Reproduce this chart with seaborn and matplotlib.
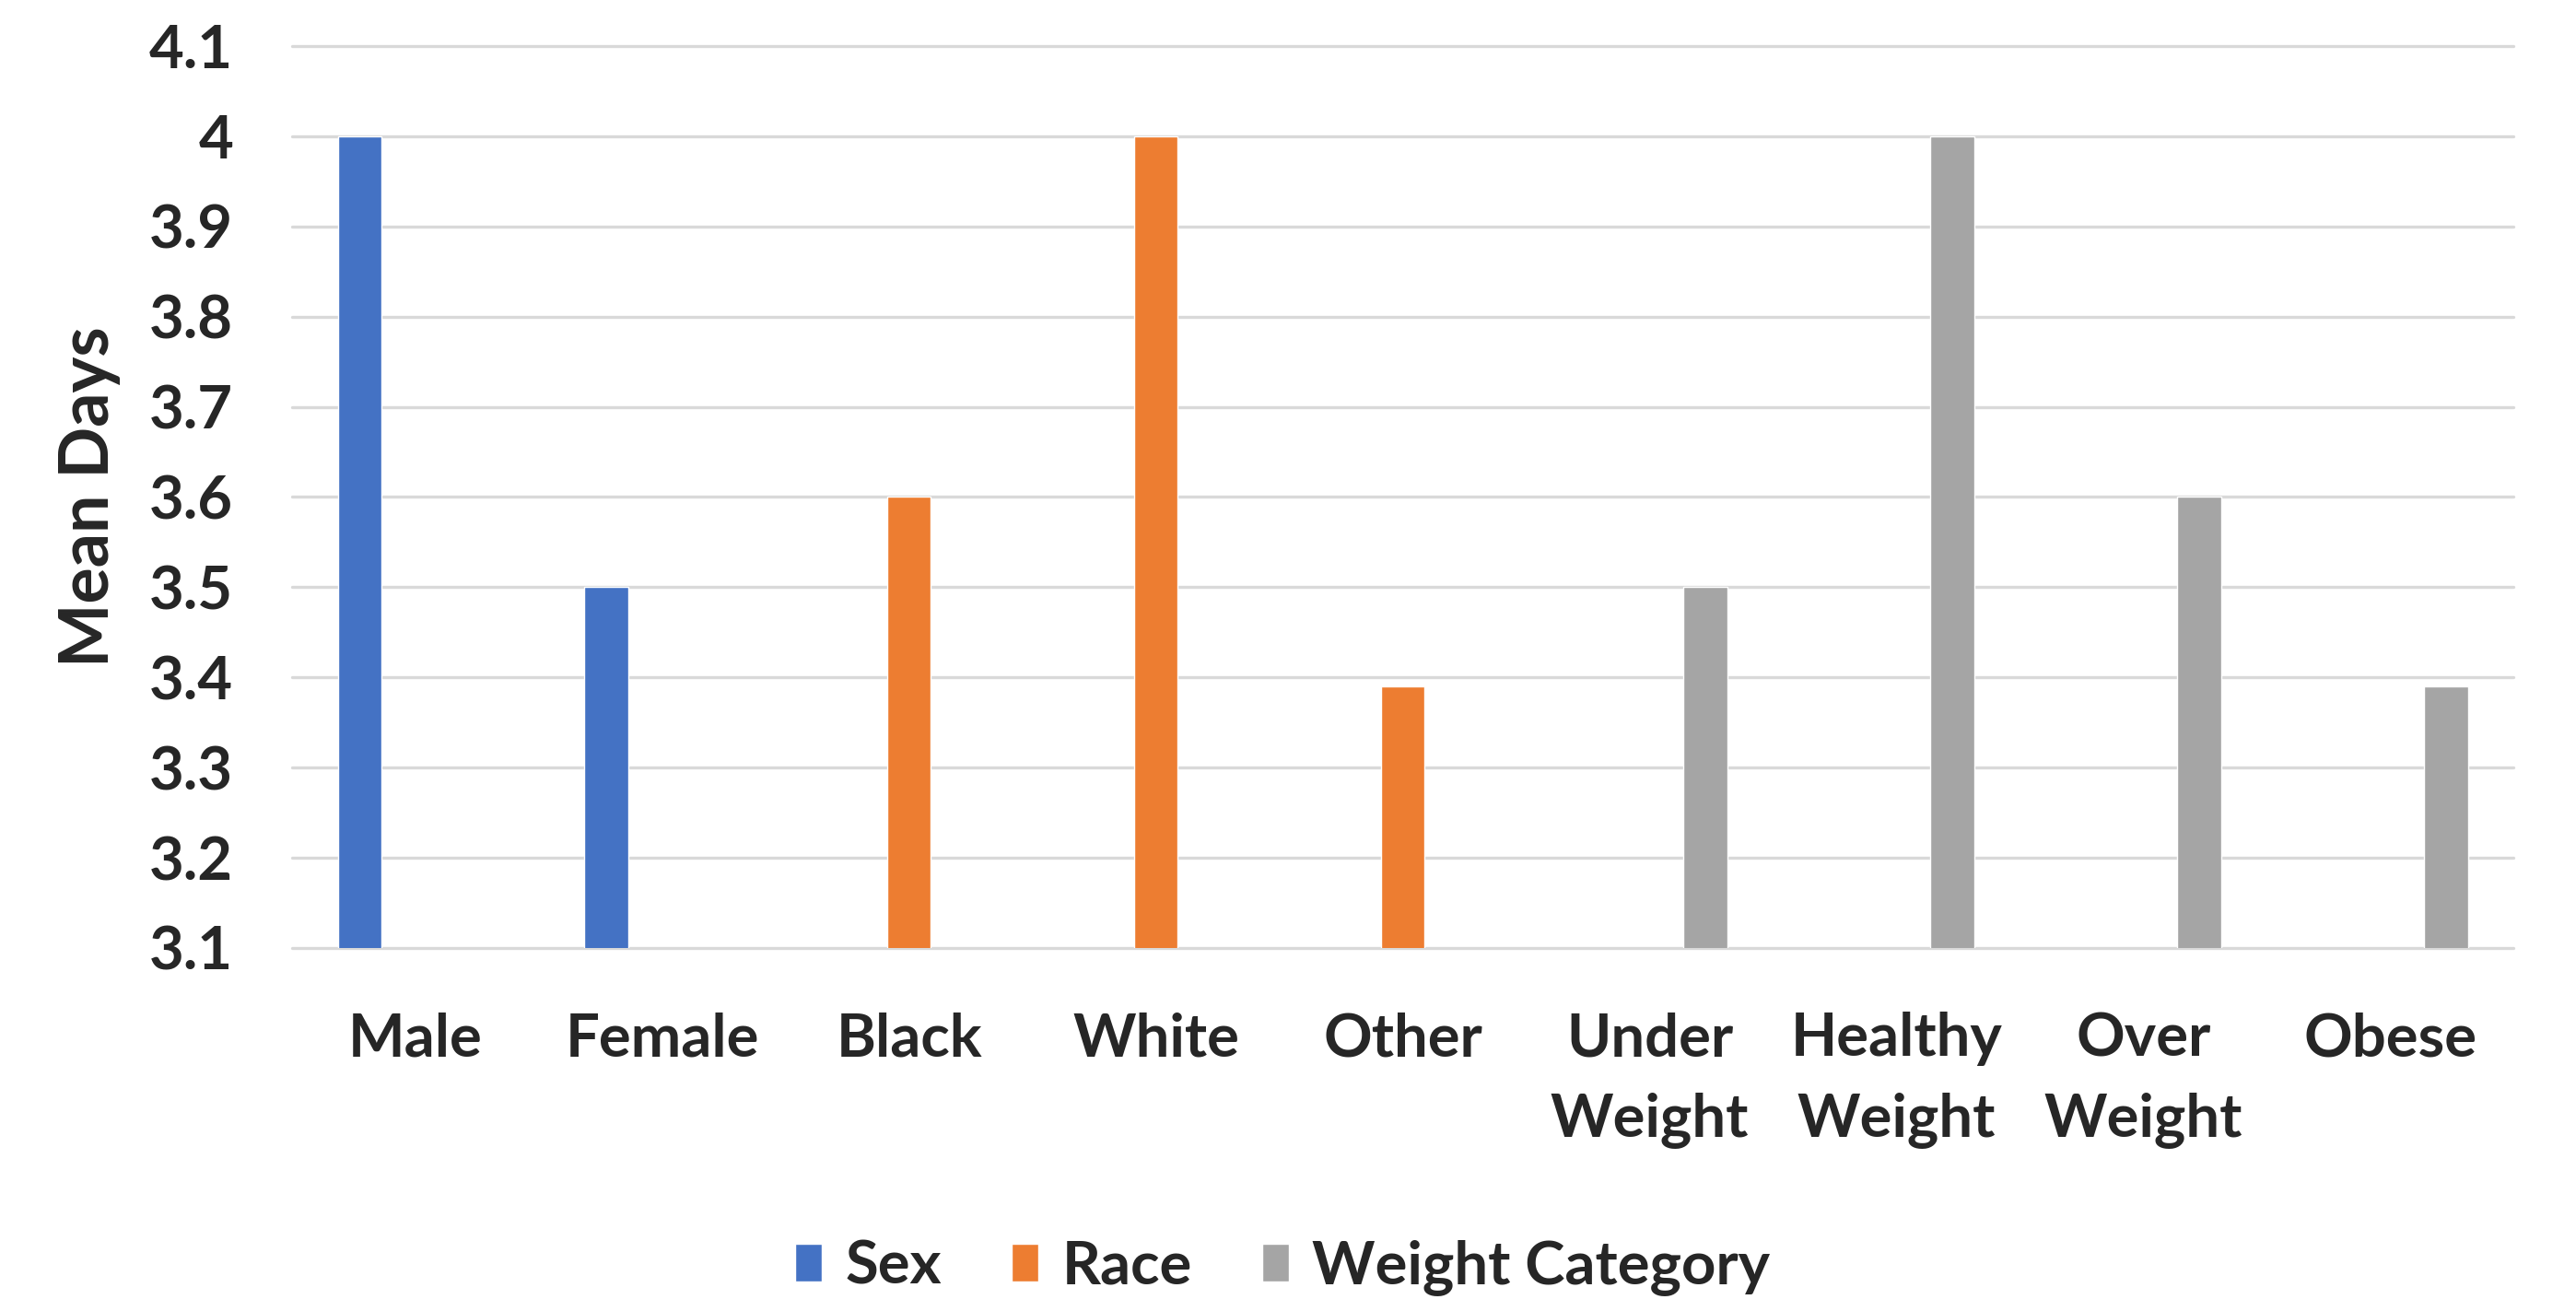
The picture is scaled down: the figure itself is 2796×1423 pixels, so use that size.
import matplotlib
matplotlib.use("Agg")
import matplotlib.pyplot as plt
import seaborn as sns
import pandas as pd

# Mean days by demographic group
categories = ["Male", "Female", "Black", "White", "Other",
              "Under\nWeight", "Healthy\nWeight", "Over\nWeight", "Obese"]
groups = ["Sex", "Sex", "Race", "Race", "Race",
          "Weight Category", "Weight Category", "Weight Category", "Weight Category"]
mean_days = [4.0, 3.5, 3.6, 4.0, 3.39, 3.5, 4.0, 3.6, 3.39]

series_order = ["Sex", "Race", "Weight Category"]
series_colors = ["#4472C4", "#ED7D31", "#A5A5A5"]
y_ticks = [3.1, 3.2, 3.3, 3.4, 3.5, 3.6, 3.7, 3.8, 3.9, 4.0, 4.1]
y_tick_labels = [f"{v:g}" for v in y_ticks]

df = pd.DataFrame({"category": categories, "group": groups, "value": mean_days})

sns.set_theme(style="white")
plt.rcParams["font.family"] = ["Lato", "DejaVu Sans"]
plt.rcParams["font.weight"] = "bold"

FS = 47

fig = plt.figure(figsize=(27.96, 14.23), dpi=100)
ax = fig.add_axes([0.1134, 0.2769, 0.8623, 0.688])

sns.barplot(data=df, x="category", y="value", hue="group",
            order=categories, hue_order=series_order, palette=series_colors,
            saturation=1, width=0.68, gap=0.22, dodge=True, errorbar=None, ax=ax)

handles, labels = ax.get_legend_handles_labels()
ax.legend_.remove()

ax.set_ylim(3.1, 4.1)
ax.set_yticks(y_ticks)
ax.set_yticklabels(y_tick_labels)
ax.yaxis.grid(True, color="#D9D9D9", linewidth=2.4)
for gl in ax.get_ygridlines():
    gl.set_clip_on(False)
ax.xaxis.grid(False)
ax.set_axisbelow(True)
for s in ax.spines.values():
    s.set_visible(False)

ax.tick_params(axis="y", length=0, pad=46, labelsize=FS)
ax.tick_params(axis="x", length=0, pad=50, labelsize=FS)
for t in ax.get_xticklabels():
    t.set_fontweight("bold")
    t.set_linespacing(1.6)
for t in ax.get_yticklabels():
    t.set_fontweight("bold")

ax.set_xlabel("")
ax.set_ylabel("Mean Days", fontsize=53, fontweight="bold")
ax.yaxis.set_label_coords(-0.077, 0.5)

fig.legend(handles, labels, loc="center", bbox_to_anchor=(0.498, 0.033),
           ncol=3, frameon=False, prop={"weight": "bold", "size": FS},
           handlelength=0.44, handleheight=0.58, handletextpad=0.39,
           columnspacing=1.17)

fig.savefig("out.png", dpi=100, facecolor="white")
